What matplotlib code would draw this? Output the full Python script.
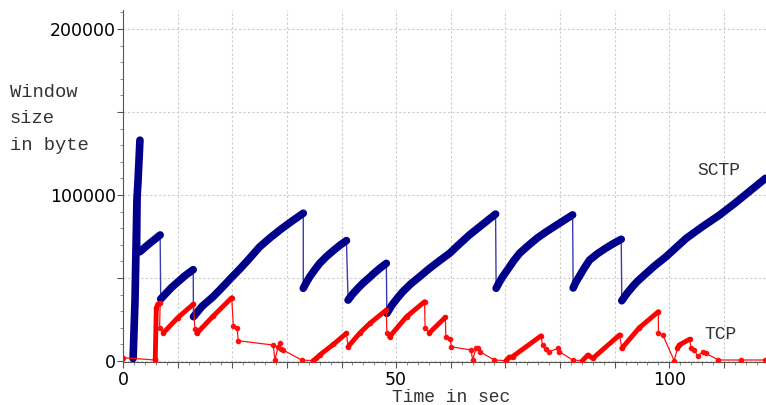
import matplotlib
matplotlib.use("Agg")
import matplotlib.pyplot as plt
from matplotlib.ticker import MultipleLocator, FuncFormatter

# SCTP congestion window: one ramp per list, thin drops between them
sctp_ramps_t = [
    [1.85, 2.2, 2.55, 2.75, 3.1],
    [3.1, 4.0, 4.9, 5.9, 6.8],
    [6.9, 7.8, 8.8, 10.0, 11.4, 12.85],
    [12.9, 14.5, 16.5, 18.3, 19.9, 21.5, 23.0, 25.0, 27.0, 29.0, 31.0, 33.0],
    [33.0, 33.6, 34.2, 35.0, 36.0, 37.2, 38.5, 39.7, 40.9],
    [41.2, 42.0, 43.0, 43.9, 45.0, 46.0, 47.0, 48.2],
    [48.3, 49.2, 50.2, 51.2, 52.7, 54.3, 56.0, 57.9, 59.8, 61.6, 63.4, 65.8, 68.2],
    [68.3, 68.9, 69.5, 70.5, 71.5, 72.6, 74.2, 75.8, 77.5, 79.9, 82.3],
    [82.4, 82.9, 83.5, 84.4, 85.4, 86.8, 88.3, 89.8, 91.2],
    [91.3, 92.2, 93.2, 94.1, 95.1, 97.2, 99.4, 101.3, 103.1, 106.1, 109.2, 112.0, 114.8, 117.6],
]
sctp_ramps_w = [
    [1500, 36700, 97000, 108400, 133000],
    [65800, 68400, 70900, 73500, 75900],
    [37300, 40500, 44000, 47500, 51500, 55000],
    [26700, 33000, 38700, 44800, 50400, 55800, 61200, 68700, 74400, 79600, 84400, 89000],
    [43800, 47500, 50800, 54500, 58800, 62800, 66500, 69700, 72500],
    [36700, 40200, 43800, 46800, 50000, 53000, 55800, 58800],
    [28700, 33500, 37800, 41700, 46500, 50800, 55500, 60300, 64900, 70500, 75900, 82200, 88500],
    [43800, 47500, 50800, 55500, 60300, 64900, 69600, 74000, 77900, 83000, 88000],
    [44000, 47500, 50800, 55800, 60800, 64500, 67800, 70800, 73300],
    [36300, 40500, 44500, 47800, 50800, 57000, 62800, 68500, 73900, 81000, 87900, 95000, 102500, 110000],
]

# TCP congestion window (all sampled points in order)
tcp_t = [0.0, 5.85, 5.9, 6.1, 6.4, 6.8, 6.7, 7.4, 10.0, 12.9,
         13.16, 13.5, 16.5, 19.9, 20.2, 20.9, 21.1, 27.5, 27.8, 28.4,
         28.7, 29.0, 29.3, 32.7, 34.8, 35.4, 36.0, 38.5, 40.9, 41.2,
         43.3, 45.2, 48.2, 48.3, 48.8, 51.9, 55.2, 55.3, 56.1, 59.0,
         59.1, 59.9, 60.1, 63.7, 64.0, 64.6, 64.9, 65.3, 68.0, 70.1,
         70.7, 71.3, 76.5, 76.8, 77.4, 78.0, 79.6, 79.9, 82.3, 84.1,
         85.1, 86.0, 90.9, 91.3, 94.5, 98.0, 98.0, 98.8, 100.9, 101.5,
         101.8, 103.7, 104.0, 104.6, 105.2, 106.1, 106.7, 109.0, 113.1, 117.6]
tcp_w = [2000, 600, 1000, 32000, 34300, 34700, 19700, 17000, 26000, 34300,
         19100, 16700, 27000, 38100, 21100, 19700, 12200, 9600, 600, 8600,
         10700, 7000, 6600, 600, 200, 1600, 3600, 10000, 16700, 8600,
         16700, 22700, 30700, 17000, 14600, 26700, 35700, 19700, 17000, 26300,
         14600, 13000, 8600, 6600, 600, 7600, 7600, 5600, 600, 200,
         2200, 2600, 15100, 9600, 7000, 5600, 7600, 5600, 600, 200,
         3600, 1600, 15700, 7600, 20000, 29700, 17000, 15700, 200, 7600,
         9600, 13100, 7600, 6600, 3000, 5600, 4600, 600, 600, 600]
# index ranges of the TCP ramps that are drawn heavy
tcp_ramps = [(2, 5), (7, 10), (11, 14), (24, 29), (29, 33), (34, 37), (38, 40),
             (49, 53), (59, 63), (63, 66), (69, 72)]

fig = plt.figure(figsize=(7.66, 4.05), dpi=100)
ax = fig.add_axes([123/766, 43/405, 643/766, 352/405])

# SCTP: thin connecting line then heavy ramps
all_t = [t for seg in sctp_ramps_t for t in seg]
all_w = [w for seg in sctp_ramps_w for w in seg]
ax.plot(all_t, all_w, color='#3c3cb0', lw=1.0, zorder=3)
for st, sw in zip(sctp_ramps_t, sctp_ramps_w):
    ax.plot(st, sw, color='#00008b', lw=5.5, solid_capstyle='round',
            solid_joinstyle='round', zorder=4)

# TCP
ax.plot(tcp_t, tcp_w, color='#ff1010', lw=0.9, marker='o', ms=3, zorder=5)
for a, b in tcp_ramps:
    ax.plot(tcp_t[a:b], tcp_w[a:b], color='#ff0000', lw=3.5,
            solid_capstyle='round', solid_joinstyle='round', zorder=5)

ax.set_xlim(0, 117.7)
ax.set_ylim(-600, 211400)

ax.xaxis.set_major_locator(MultipleLocator(10))
ax.xaxis.set_minor_locator(MultipleLocator(2))
ax.yaxis.set_major_locator(MultipleLocator(50000))
ax.yaxis.set_minor_locator(MultipleLocator(10000))
ax.xaxis.set_major_formatter(FuncFormatter(lambda v, p: '%d' % v if round(v) in (0, 50, 100) else ''))
ax.yaxis.set_major_formatter(FuncFormatter(lambda v, p: '%d' % v if round(v) in (0, 100000, 200000) else ''))

ax.grid(True, which='major', color='#cccccc', linestyle=(0, (2, 2)), lw=0.8)
ax.set_axisbelow(True)
for s in ['top', 'right']:
    ax.spines[s].set_visible(False)
for s in ['left', 'bottom']:
    ax.spines[s].set_color('#555555')
ax.tick_params(which='major', length=4, color='#555555', labelsize=12.5)
ax.tick_params(which='minor', length=2.5, color='#777777')
ax.tick_params(axis='y', which='major', pad=1)
ax.tick_params(axis='x', which='major', pad=2.5)

mono = 'Liberation Mono'
fig.text(10/766, 1 - 84/405, 'Window\nsize\nin byte', family=mono, fontsize=13.5,
         color='#333333', va='top', ha='left', linespacing=1.72)
fig.text(451/766, 1 - 389/405, 'Time in sec', family=mono, fontsize=13,
         color='#333333', va='top', ha='center')
ax.text(105.1, 115000, 'SCTP', family=mono, fontsize=13, color='#333333', va='center', ha='left')
ax.text(106.4, 16000, 'TCP', family=mono, fontsize=13, color='#333333', va='center', ha='left')

fig.savefig('out.png', dpi=100)
